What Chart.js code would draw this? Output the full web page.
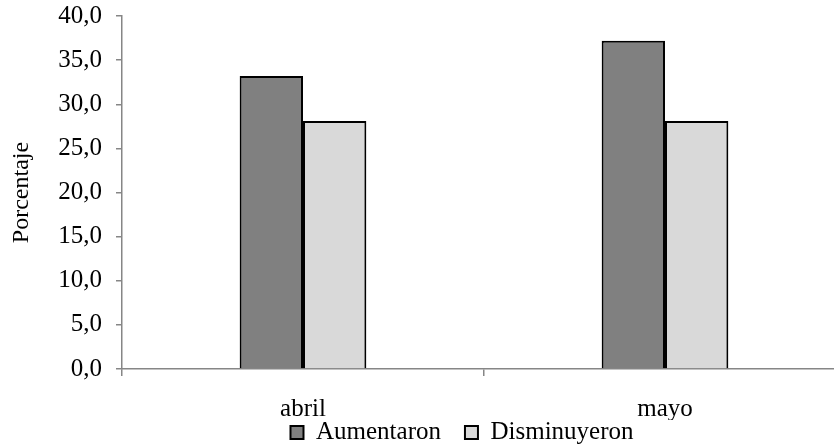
<!DOCTYPE html>
<html>
<head>
<meta charset="utf-8">
<script src="https://cdn.jsdelivr.net/npm/chart.js@4"></script>
<style>
  html, body { margin: 0; padding: 0; background: #fff; overflow: hidden; }
  #wrap { width: 850px; height: 448px; }
</style>
</head>
<body>
<div id="wrap"><canvas id="grafico"></canvas></div>
<script>
// datos
const meses = ['abril', 'mayo'];
const aumentaron = [33.2, 37.2];
const disminuyeron = [28.1, 28.1];
const yMin = 0, yMax = 40, yPaso = 5;

const fuente = "'Liberation Serif', 'Times New Roman', serif";
const gris = '#868686';

// ajusta la posición de la leyenda como en el original
const moverLeyenda = {
    id: 'moverLeyenda',
    afterLayout(chart) {
        const l = chart.legend;
        const h = l.height;
        l.left += 39; l.right += 39;
        l.top = 396; l.bottom = l.top + h;
    }
};

window.addEventListener('DOMContentLoaded', () => {
    const ctx = document.getElementById('grafico').getContext('2d');

    new Chart(ctx, {
        type: 'bar',
        data: {
            labels: meses,
            datasets: [{
                label: 'Aumentaron',
                data: aumentaron,
                backgroundColor: '#808080',
                borderColor: '#000',
                borderWidth: 2
            }, {
                label: 'Disminuyeron',
                data: disminuyeron,
                backgroundColor: '#d9d9d9',
                borderColor: '#000',
                borderWidth: 2
            }]
        },
        options: {
            responsive: true,
            maintainAspectRatio: false,
            animation: false,
            categoryPercentage: 0.35,
            barPercentage: 1,
            layout: { padding: { top: 16, right: 4, left: 0, bottom: -31 } },
            plugins: {
                legend: {
                    position: 'bottom',
                    labels: {
                        font: { family: fuente, size: 25, lineHeight: 1 },
                        color: '#000',
                        boxWidth: 13,
                        boxHeight: 13,
                        padding: 24
                    }
                },
                tooltip: { enabled: false }
            },
            scales: {
                x: {
                    offset: true,
                    afterFit: s => { s.height = 51; },
                    grid: { offset: true, drawOnChartArea: false, color: gris, tickLength: 7, lineWidth: 1.5 },
                    border: { color: gris, width: 1.5 },
                    ticks: { font: { family: fuente, size: 25, lineHeight: 1 }, color: '#000', padding: 21 }
                },
                y: {
                    min: yMin,
                    max: yMax,
                    afterFit: s => { s.width = 122; s.paddingTop = 0; s.paddingBottom = 0; },
                    ticks: {
                        stepSize: yPaso,
                        font: { family: fuente, size: 25, lineHeight: 1 },
                        color: '#000',
                        padding: 14,
                        callback: v => v.toFixed(1).replace('.', ',')
                    },
                    grid: { drawOnChartArea: false, color: gris, tickLength: 6, lineWidth: 1.5 },
                    border: { color: gris, width: 1.5 },
                    title: {
                        display: true,
                        text: 'Porcentaje',
                        font: { family: fuente, size: 24, lineHeight: 1 },
                        color: '#000',
                        padding: { top: 10, bottom: 0 }
                    }
                }
            }
        },
        plugins: [moverLeyenda]
    });
});
</script>
</body>
</html>
